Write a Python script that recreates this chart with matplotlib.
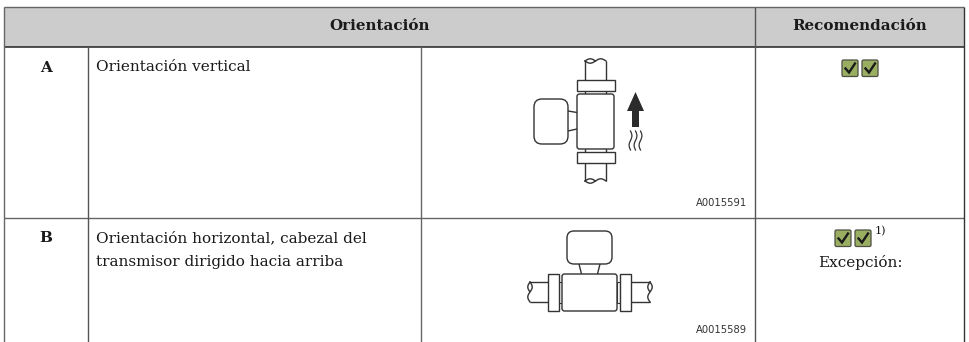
import matplotlib
matplotlib.use('Agg')
import matplotlib.pyplot as plt
from matplotlib.patches import FancyBboxPatch, Rectangle, Polygon
import numpy as np

# texts of the table
header_left = 'Orientación'
header_right = 'Recomendación'
row_keys = ['A', 'B']
row_texts = [['Orientación vertical'],
             ['Orientación horizontal, cabezal del', 'transmisor dirigido hacia arriba']]
row_codes = ['A0015591', 'A0015589']
exception_text = 'Excepción:'
footnote = '1)'

SERIF = ['DejaVu Serif']
LINE = '#333333'
GREY = '#cccccc'
GREEN = '#9aae62'
TXT = '#1a1a1a'
FS = 11.0
LW = 1.0

fig = plt.figure(figsize=(9.69, 3.42), dpi=100)
ax = fig.add_axes([0, 0, 1, 1])
ax.set_xlim(0, 969)
ax.set_ylim(342, 0)
ax.axis('off')


def seg(x, y, lw=1.0, color=LINE):
    ax.plot(x, y, color=color, lw=lw, solid_capstyle='butt', zorder=3)


def rbox(x0, y0, x1, y1, r, lw=LW):
    ax.add_patch(FancyBboxPatch((x0 + r, y0 + r), x1 - x0 - 2 * r, y1 - y0 - 2 * r,
                                boxstyle='round,pad=%g,rounding_size=%g' % (r, r),
                                fc='white', ec=LINE, lw=lw, zorder=4))


def flange(x0, y0, x1, y1, vertical):
    ax.add_patch(Rectangle((x0, y0), x1 - x0, y1 - y0, fc='white', ec=LINE, lw=LW, zorder=4))
    if vertical:
        seg([x0, x1], [(y0 + y1) / 2] * 2, 0.8)
    else:
        seg([(x0 + x1) / 2] * 2, [y0, y1], 0.8)


def check_box(x, y):
    ax.add_patch(FancyBboxPatch((x + 1, y + 1), 14, 14.5, boxstyle='round,pad=1,rounding_size=1.5',
                                fc=GREEN, ec='#4d4d45', lw=0.9, zorder=4))
    ax.plot([x + 3.5, x + 7, x + 13], [y + 8.5, y + 12.5, y + 3.5], color='#1a1a1a', lw=1.7,
            solid_joinstyle='miter', zorder=5)


# table frame
ax.add_patch(Rectangle((4, 7), 960, 40, fc=GREY, ec='none', zorder=1))
seg([4, 964], [7, 7], 1.0, '#666666')
seg([4, 964], [47, 47], 1.1, '#222222')
seg([4, 964], [218, 218], 1.0, '#666666')
seg([4, 4], [7, 342], 1.0, '#666666')
seg([964, 964], [7, 342], 1.0, '#333333')
seg([88, 88], [47, 342], 1.0, '#555555')
seg([421.5, 421.5], [47, 342], 1.0, '#666666')
seg([755.5, 755.5], [7, 342], 1.0, '#555555')

# header
ax.text(380, 26, header_left, family=SERIF, fontsize=10.9, fontweight='bold', color=TXT,
        ha='center', va='center')
ax.text(860, 26, header_right, family=SERIF, fontsize=10.9, fontweight='bold', color=TXT,
        ha='center', va='center')

# rows
ax.text(46, 68, row_keys[0], family=SERIF, fontsize=FS, fontweight='bold', color=TXT,
        ha='center', va='center')
ax.text(46, 238, row_keys[1], family=SERIF, fontsize=FS, fontweight='bold', color=TXT,
        ha='center', va='center')
ax.text(96, 67, row_texts[0][0], family=SERIF, fontsize=FS, color=TXT, va='center')
ax.text(96, 238, row_texts[1][0], family=SERIF, fontsize=FS, color=TXT, va='center')
ax.text(96, 262, row_texts[1][1], family=SERIF, fontsize=FS, color=TXT, va='center')
ax.text(747, 203, row_codes[0], fontsize=7.2, color='#333333', ha='right', va='center')
ax.text(747, 330, row_codes[1], fontsize=7.2, color='#333333', ha='right', va='center')

# recommendation column
check_box(842, 60)
check_box(862, 60)
check_box(835, 230)
check_box(855, 230)
ax.text(875, 231, footnote, family=SERIF, fontsize=8, color=TXT, va='center')
ax.text(860, 262, exception_text, family=SERIF, fontsize=FS, color=TXT, ha='center', va='center')

# vertical meter, pipe ends are small lens shaped breaks
t = np.linspace(0, 1, 30)
seg([585, 585], [61, 181], LW)
seg([606, 606], [61, 181], LW)
for yy in (61, 181):
    ax.plot(585 + 21 * t, yy + 2.2 * np.sin(2 * np.pi * t), color=LINE, lw=LW, zorder=3)
    ax.plot(585 + 10.5 * t, yy - 2.2 * np.sin(np.pi * t), color=LINE, lw=LW, zorder=3)
flange(577, 80, 615, 91, True)
flange(577, 152, 615, 163, True)
rbox(577, 94, 614, 149, 2.5)
seg([568, 577], [111, 112.5], LW)
seg([568, 577], [131, 129], LW)
rbox(534, 99, 568, 144, 8)
ax.add_patch(Polygon([(635.5, 92), (644, 111), (639, 111), (639, 127), (632, 127), (632, 111), (627, 111)],
                     fc='#2b2b2b', ec='none', zorder=4))
for xx in (630.5, 635.5, 640.5):
    yy = np.linspace(131, 150, 40)
    ax.plot(xx + 1.4 * np.sin((yy - 131) / 19 * 2 * np.pi), yy, color=LINE, lw=0.9, zorder=4)

# horizontal meter
seg([530, 548], [282, 282], LW)
seg([530, 548], [302, 302], LW)
seg([631, 650], [282, 282], LW)
seg([631, 650], [302, 302], LW)
yy = np.linspace(282, 302, 30)
for xx in (530, 650):
    ax.plot(xx + 2.2 * np.sin((yy - 282) / 20 * 2 * np.pi), yy, color=LINE, lw=LW, zorder=3)
    ax.plot(xx - 2.2 * np.sin((yy[:15] - 282) / 10 * np.pi), yy[:15], color=LINE, lw=LW, zorder=3)
ax.add_patch(Rectangle((559, 282), 3, 21, fc='white', ec=LINE, lw=0.8, zorder=3))
ax.add_patch(Rectangle((617, 282), 3, 21, fc='white', ec=LINE, lw=0.8, zorder=3))
flange(548, 274, 559, 311, False)
flange(620, 274, 631, 311, False)
seg([579, 581.5], [264, 274], LW)
seg([600, 597.5], [264, 274], LW)
rbox(562, 274, 617, 311, 2.5)
rbox(567, 231, 612, 264, 7)

fig.savefig('out.png', dpi=100)
